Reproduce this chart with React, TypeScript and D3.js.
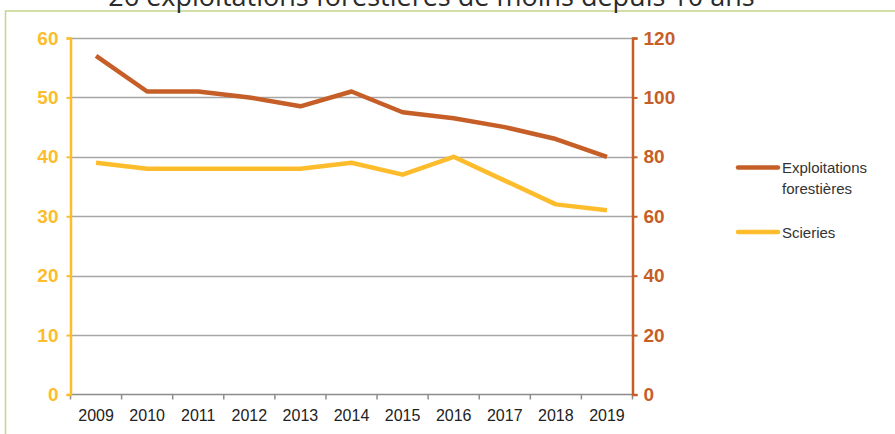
import React, { useEffect, useRef } from "react";
import * as d3 from "d3";

const years = ["2009", "2010", "2011", "2012", "2013", "2014", "2015", "2016", "2017", "2018", "2019"];
const exploitations = [114, 102, 102, 100, 97, 102, 95, 93, 90, 86, 80];
const scieries = [39, 38, 38, 38, 38, 39, 37, 40, 36, 32, 31];
const leftTicks = [0, 10, 20, 30, 40, 50, 60];
const rightTicks = [0, 20, 40, 60, 80, 100, 120];
const title = "26 exploitations forestières de moins depuis 10 ans";

const WIDTH = 895;
const HEIGHT = 434;
const DARK = "#C65F27";
const YELLOW = "#FDBC2C";

const App: React.FC = () => {
  const svgRef = useRef<SVGSVGElement | null>(null);

  useEffect(() => {
    if (!svgRef.current) return;
    const svg = d3.select(svgRef.current);
    svg.selectAll("*").remove();

    const left = 70.5;
    const right = 632.5;
    const top = 38;
    const bottom = 394.5;

    const x = d3.scaleBand().domain(years).range([left, right]);
    const yL = d3.scaleLinear().domain([0, 60]).range([bottom, top]);
    const yR = d3.scaleLinear().domain([0, 120]).range([bottom, top]);

    // frame + title (title is cut by the top edge, as in the original)
    svg
      .append("rect")
      .attr("x", 5.5)
      .attr("y", 11)
      .attr("width", 1000)
      .attr("height", 600)
      .attr("fill", "none")
      .attr("stroke", "#C3D68B")
      .attr("stroke-width", 1.5);

    svg
      .append("text")
      .attr("x", 431.5)
      .attr("y", 6)
      .attr("text-anchor", "middle")
      .attr("font-family", "'Open Sans'")
      .attr("font-size", 27)
      .attr("fill", "#2b2b2b")
      .text(title);

    // gridlines
    svg
      .append("g")
      .selectAll("line")
      .data(leftTicks.filter((d) => d > 0))
      .join("line")
      .attr("x1", left)
      .attr("x2", right)
      .attr("y1", (d) => Math.round(yL(d)) + 0.5)
      .attr("y2", (d) => Math.round(yL(d)) + 0.5)
      .attr("stroke", "#a6a6a6")
      .attr("stroke-width", 1.5);

    // x axis
    const xAxis = svg.append("g").attr("transform", `translate(0,${bottom})`);
    xAxis
      .append("line")
      .attr("x1", left)
      .attr("x2", right)
      .attr("stroke", "#8c8c8c")
      .attr("stroke-width", 1.5);
    xAxis
      .selectAll("line.tick")
      .data([...years.map((y) => x(y) as number), right])
      .join("line")
      .attr("class", "tick")
      .attr("x1", (d) => d)
      .attr("x2", (d) => d)
      .attr("y1", 0)
      .attr("y2", 5)
      .attr("stroke", "#8c8c8c")
      .attr("stroke-width", 1.5);
    xAxis
      .selectAll("text")
      .data(years)
      .join("text")
      .attr("x", (d) => (x(d) as number) + x.bandwidth() / 2)
      .attr("y", 26)
      .attr("text-anchor", "middle")
      .attr("font-family", "'Liberation Sans', Arial")
      .attr("font-size", 16)
      .attr("fill", "#222")
      .text((d) => d);

    // left axis
    const gl = svg
      .append("g")
      .attr("transform", `translate(${left},0)`)
      .call(d3.axisLeft(yL).tickValues(leftTicks).tickSize(4).tickPadding(8));
    gl.select(".domain").attr("stroke", YELLOW).attr("stroke-width", 2.5);
    gl.selectAll(".tick line").attr("stroke", YELLOW).attr("stroke-width", 2);
    gl.selectAll(".tick text")
      .attr("fill", YELLOW)
      .attr("font-family", "'Liberation Sans', Arial")
      .attr("font-weight", "bold")
      .attr("font-size", 19);

    // right axis
    const gr = svg
      .append("g")
      .attr("transform", `translate(${right},0)`)
      .call(d3.axisRight(yR).tickValues(rightTicks).tickSize(5).tickPadding(6));
    gr.select(".domain").attr("stroke", DARK).attr("stroke-width", 2.5);
    gr.selectAll(".tick line").attr("stroke", DARK).attr("stroke-width", 2);
    gr.selectAll(".tick text")
      .attr("fill", DARK)
      .attr("font-family", "'Liberation Sans', Arial")
      .attr("font-weight", "bold")
      .attr("font-size", 19);

    const cx = (i: number) => (x(years[i]) as number) + x.bandwidth() / 2;

    // lines
    const lineL = d3.line<number>().x((_, i) => cx(i)).y((d) => yL(d));
    const lineR = d3.line<number>().x((_, i) => cx(i)).y((d) => yR(d));

    svg
      .append("path")
      .datum(scieries)
      .attr("d", lineL)
      .attr("fill", "none")
      .attr("stroke", YELLOW)
      .attr("stroke-width", 4.5)
      .attr("stroke-linejoin", "round");

    svg
      .append("path")
      .datum(exploitations)
      .attr("d", lineR)
      .attr("fill", "none")
      .attr("stroke", DARK)
      .attr("stroke-width", 4.5)
      .attr("stroke-linejoin", "round");

    // legend
    const legend = [
      { label: ["Exploitations", "forestières"], color: DARK, y: 167.5 },
      { label: ["Scieries"], color: YELLOW, y: 232 },
    ];
    const lg = svg.append("g");
    legend.forEach((l) => {
      lg.append("line")
        .attr("x1", 738)
        .attr("x2", 778)
        .attr("y1", l.y)
        .attr("y2", l.y)
        .attr("stroke", l.color)
        .attr("stroke-width", 4.5)
        .attr("stroke-linecap", "round");
      const t = lg
        .append("text")
        .attr("x", 782)
        .attr("y", l.y + 5.5)
        .attr("font-family", "'Liberation Sans', Arial")
        .attr("font-size", 15)
        .attr("fill", "#333");
      l.label.forEach((s, i) =>
        t.append("tspan").attr("x", 782).attr("dy", i === 0 ? 0 : 21).text(s)
      );
    });
  }, []);

  return (
    <svg
      ref={svgRef}
      width={WIDTH}
      height={HEIGHT}
      style={{ position: "absolute", left: 0, top: 0, background: "#fff" }}
    />
  );
};

export default App;
